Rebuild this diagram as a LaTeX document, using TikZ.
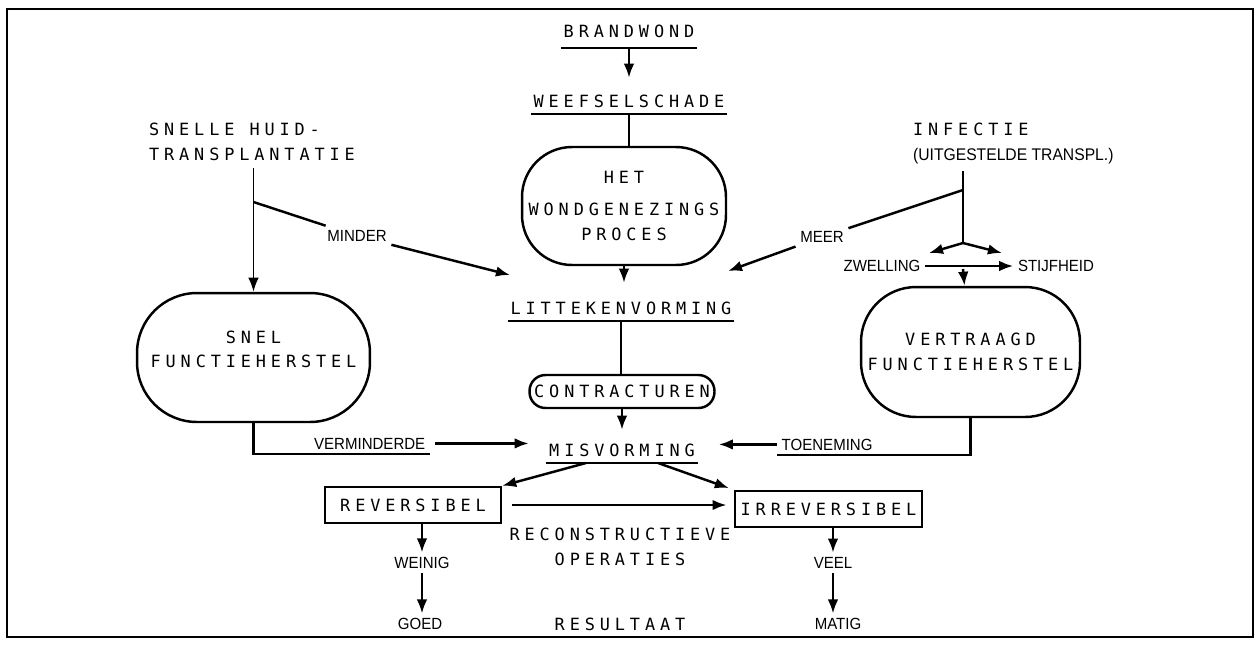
\documentclass[tikz,border=0pt]{standalone}
\usepackage{fontspec}
\newfontfamily\letterfont[LetterSpace=29]{DejaVu Sans Mono}
\newfontfamily\handfont[FakeStretch=0.93]{Liberation Sans}
\usetikzlibrary{arrows.meta,positioning}

\begin{document}
\begin{tikzpicture}[x=0.02cm,y=-0.02cm,line width=1.4pt,
    lbl/.style={font=\letterfont\fontsize{9.6}{14}\selectfont,align=center},
    hand/.style={font=\handfont\fontsize{9.2}{14}\selectfont,inner sep=2pt},
    uline/.style={lbl,anchor=south,inner xsep=1pt,inner ysep=3.2pt,text depth=0pt,
      append after command={(\tikzlastnode.south west) edge (\tikzlastnode.south east)}},
    blob/.style={lbl,draw,rounded corners=1.1cm},
    box/.style={lbl,draw,minimum height=0.72cm},
    arr/.style={-{Latex[length=8pt,width=6pt]}}]
  \useasboundingbox (0,0) rectangle (1259,647);
  \draw[line width=1.6pt] (7,9) rectangle (1253,637);
  % centre column
  \node[uline,inner ysep=5pt] (brand) at (629,48) {BRANDWOND};
  \node[uline] (weefsel) at (629,114) {WEEFSELSCHADE};
  \node[blob,rounded corners=1cm,minimum width=4.08cm,minimum height=2.36cm] (wond) at (624,206)
    {HET\\[4.5pt]WONDGENEZINGS\\PROCES};
  \node[uline] (litteken) at (621,321) {LITTEKENVORMING};
  \node[blob,rounded corners=0.32cm,minimum width=3.7cm,minimum height=0.66cm,
    inner sep=1pt] (contract) at (622,391.5) {CONTRACTUREN};
  \node[uline] (misvorm) at (622,463) {MISVORMING};
  % left column
  \node[lbl,align=left,anchor=north west] (snelhuid) at (142,116)
    {SNELLE HUID-\\TRANSPLANTATIE};
  \node[blob,rounded corners=1.2cm,minimum width=4.66cm,minimum height=2.58cm] (snelfh) at (253.5,357.5) {};
  \node[lbl] (snelfhtxt) at (253.5,349.5) {SNEL\\FUNCTIEHERSTEL};
  \node[hand] (minder) at (357,236) {MINDER};
  \coordinate (lsplit) at (253.5,202);
  \coordinate (lhit) at (510,275);
  \node[hand,anchor=base east] (vermind) at (430,449) {VERMINDERDE};
  % right column
  \node[lbl,align=left,anchor=north west] (infectie) at (906,116)
    {INFECTIE\\{\handfont (UITGESTELDE TRANSPL.)}};
  \coordinate (rsplit) at (963,190);
  \coordinate (fork) at (963,243);
  \coordinate (rhit) at (728,271);
  \node[hand] (meer) at (822,237) {MEER};
  \node[hand] (zwelling) at (882,266) {ZWELLING};
  \node[hand] (stijfheid) at (1056,266) {STIJFHEID};
  \coordinate (zleft) at (929,253);
  \coordinate (zright) at (1002,253);
  \coordinate (swell) at (963,269);
  \node[blob,minimum width=4.38cm,minimum height=2.6cm] (vertraagd) at (970.5,352)
    {VERTRAAGD\\FUNCTIEHERSTEL};
  \node[hand,anchor=base west] (toenem) at (777,450) {TOENEMING};
  % bottom
  \node[box,minimum width=3.52cm] (rev) at (413,505) {REVERSIBEL};
  \node[box,minimum width=3.74cm] (irrev) at (828.5,509) {IRREVERSIBEL};
  \node[lbl] (recon) at (620,547) {RECONSTRUCTIEVE\\OPERATIES};
  \node[hand] (weinig) at (422,563) {WEINIG};
  \node[hand] (goed) at (420,624) {GOED};
  \node[hand] (veel) at (833,563) {VEEL};
  \node[hand] (matig) at (838,624) {MATIG};
  \node[lbl] (result) at (620,624) {RESULTAAT};
  % connectors
  \draw[arr,shorten >=0.2cm] (brand) -- (weefsel);
  \draw (weefsel) -- (weefsel |- wond.north);
  \draw[arr,shorten >=0.24cm] (wond) -- (wond |- litteken.north);
  \draw (litteken.south) -- (litteken.south |- contract.north);
  \draw[arr,shorten >=0.14cm] (contract) -- (contract |- misvorm.north);
  \draw[arr,line width=1pt] (snelhuid.south -| snelfh.north) -- (snelfh.north);
  \draw (lsplit) -- (minder);
  \draw[arr] (minder) -- (lhit);
  \draw (snelfh.south) |- (vermind.south east);
  \draw[arr,shorten <=0.1cm,shorten >=0.35cm] (vermind.east) -- (vermind.east -| misvorm.west);
  \draw (infectie.south -| fork) -- (fork);
  \draw (rsplit) -- (meer);
  \draw[arr] (meer) -- (rhit);
  \draw[arr] (fork) -- (zleft);
  \draw[arr] (fork) -- (zright);
  \draw[arr] (zwelling) -- (stijfheid);
  \draw[arr] (swell) -- (vertraagd);
  \draw (vertraagd.south) |- (toenem.south west);
  \draw[arr,shorten >=0.42cm] (toenem.west) -- (toenem.west -| misvorm.east);
  \draw[arr] (misvorm.200) -- (rev.north east);
  \draw[arr,shorten >=0.1cm] (misvorm.340) -- (irrev.north west);
  \draw[arr,shorten <=0.2cm,shorten >=0.14cm] (rev.east) -- (rev.east -| irrev.west);
  \draw[arr] (weinig.north |- rev.south) -- (weinig);
  \draw[arr] (weinig) -- (goed.north -| weinig);
  \draw[arr] (veel.north |- irrev.south) -- (veel);
  \draw[arr] (veel) -- (matig.north -| veel);
\end{tikzpicture}
\end{document}
